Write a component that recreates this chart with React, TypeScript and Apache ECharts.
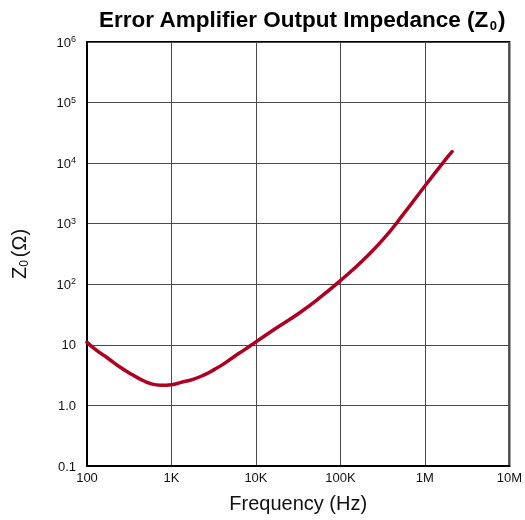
import React, { useEffect, useRef } from "react";
import * as echarts from "echarts";

const frequencies = [100, 130, 180, 240, 320, 420, 560, 750, 1000, 1300, 1800, 2400, 3200, 4200, 5600, 7500, 10000, 18000, 32000, 56000, 100000, 180000, 320000, 560000, 1000000, 1800000, 2100000];
const impedances = [11, 8.1, 5.9, 4.4, 3.4, 2.75, 2.3, 2.15, 2.2, 2.4, 2.7, 3.16, 3.9, 4.9, 6.5, 8.5, 11.2, 19.5, 33, 59, 115, 240, 550, 1450, 4200, 12000, 15500];

const xTickLabels: Record<number, string> = { 2: "100", 3: "1K", 4: "10K", 5: "100K", 6: "1M", 7: "10M" };
const yTickLabels: Record<number, string> = {
  [-1]: "0.1",
  0: "1.0",
  1: "10",
  2: "10{sup|2}",
  3: "10{sup|3}",
  4: "10{sup|4}",
  5: "10{sup|5}",
  6: "10{sup|6}",
};

const titleText = "Error Amplifier Output Impedance (Z{sub|0})";
const xName = "Frequency (Hz)";
const yName = "Z{sub|0}(Ω)";

export default function App() {
  const ref = useRef<HTMLDivElement>(null);
  useEffect(() => {
    if (!ref.current) return;
    const chart = echarts.init(ref.current, null, { renderer: "svg" });
    const font = "'Liberation Sans', Arial, sans-serif";
    const data = frequencies.map((f, i) => [f, impedances[i]]);
    chart.setOption({
      animation: false,
      textStyle: { fontFamily: font },
      title: {
        text: titleText,
        left: 297,
        textAlign: "center",
        top: 1,
        textStyle: {
          fontFamily: font,
          fontSize: 22.5,
          fontWeight: "bold",
          color: "#000",
          rich: {
            sub: { fontSize: 13, fontWeight: "bold", verticalAlign: "bottom", padding: [13, 1, 0, 1], color: "#000", fontFamily: font },
          },
        },
      },
      grid: {
        left: 87,
        right: 14,
        top: 42,
        bottom: 54,
        show: true,
        borderColor: "#000",
        borderWidth: 2,
        containLabel: false,
      },
      xAxis: {
        type: "log",
        logBase: 10,
        min: 100,
        max: 10000000,
        interval: 1,
        name: xName,
        nameLocation: "middle",
        nameGap: 27,
        nameTextStyle: { fontSize: 20, color: "#111", fontFamily: font },
        axisLine: { show: true, lineStyle: { color: "#000", width: 2 } },
        axisTick: { show: false },
        minorTick: { show: false },
        axisLabel: {
          margin: 5,
          fontSize: 13,
          color: "#111",
          fontFamily: font,
          formatter: (v: number) => xTickLabels[Math.round(Math.log10(v))] ?? "",
        },
        splitLine: { show: true, lineStyle: { color: "#4a4a4a", width: 1 } },
      },
      yAxis: {
        type: "log",
        logBase: 10,
        min: 0.1,
        max: 1000000,
        interval: 1,
        name: yName,
        nameLocation: "middle",
        nameRotate: 90,
        nameGap: 57,
        nameTextStyle: {
          fontSize: 20,
          color: "#111",
          fontFamily: font,
          rich: {
            sub: { fontSize: 12, verticalAlign: "bottom", padding: [11, 3, 0, 0], color: "#111", fontFamily: font },
          },
        },
        axisLine: { show: true, lineStyle: { color: "#000", width: 2 } },
        axisTick: { show: false },
        minorTick: { show: false },
        axisLabel: {
          margin: 11,
          fontSize: 13,
          color: "#111",
          fontFamily: font,
          formatter: (v: number) => yTickLabels[Math.round(Math.log10(v))] ?? "",
          rich: {
            sup: { fontSize: 9, verticalAlign: "top", padding: [0, 0, 6, 0], color: "#111", fontFamily: font },
          },
        },
        splitLine: { show: true, lineStyle: { color: "#4a4a4a", width: 1 } },
      },
      series: [
        {
          type: "line",
          data,
          smooth: 0.5,
          showSymbol: false,
          symbol: "none",
          lineStyle: { color: "#AE0020", width: 3.5, cap: "round" },
          z: 5,
        },
      ],
    });
    return () => chart.dispose();
  }, []);
  return <div ref={ref} style={{ position: "fixed", left: 0, top: 0, width: 525, height: 520 }} />;
}
